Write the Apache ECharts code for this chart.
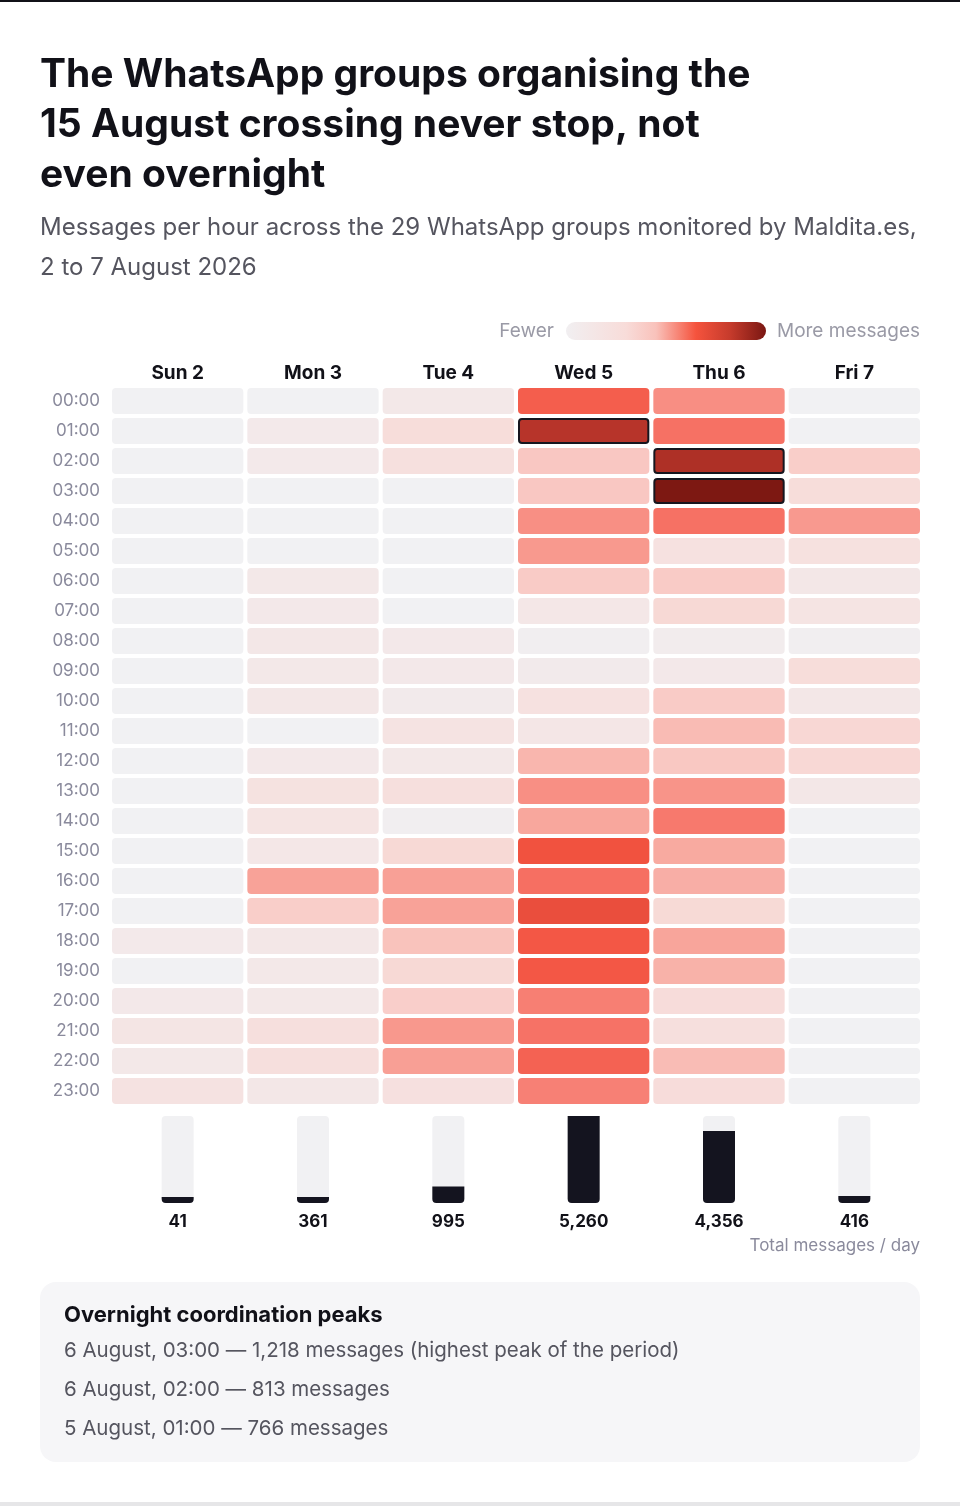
<!DOCTYPE html>
<html>
<head>
<meta charset="utf-8">
<script src="https://cdn.jsdelivr.net/npm/echarts@6/dist/echarts.min.js"></script>
<style>
  html, body { margin: 0; background: #fff; }
  #chart { width: 960px; height: 1506px; }
</style>
</head>
<body>
<div id="chart"></div>
<script>
// days and hours
const days = ['Sun 2', 'Mon 3', 'Tue 4', 'Wed 5', 'Thu 6', 'Fri 7'];
const hours = ['00:00', '01:00', '02:00', '03:00', '04:00', '05:00', '06:00', '07:00',
  '08:00', '09:00', '10:00', '11:00', '12:00', '13:00', '14:00', '15:00',
  '16:00', '17:00', '18:00', '19:00', '20:00', '21:00', '22:00', '23:00'];

// messages per hour (00:00 .. 23:00)
const sun = [0, 0, 0, 0, 0, 0, 0, 0, 0, 0, 0, 0, 0, 0, 0, 0, 0, 0, 4, 0, 5, 11, 6, 15];
const mon = [0, 4, 4, 0, 0, 0, 6, 5, 7, 6, 7, 0, 5, 16, 12, 8, 155, 56, 7, 6, 6, 22, 22, 7];
const tue = [6, 27, 20, 0, 0, 0, 0, 0, 5, 5, 3, 14, 6, 22, 1, 35, 160, 156, 78, 35, 55, 184, 164, 19];
const wed = [355, 766, 69, 69, 207, 182, 63, 8, 1, 3, 17, 9, 106, 207, 144, 406, 296, 473, 380, 380, 249, 287, 338, 245];
const thu = [208, 290, 813, 1218, 290, 17, 62, 35, 2, 5, 62, 95, 68, 195, 266, 137, 125, 33, 149, 116, 28, 21, 93, 28];
const fri = [0, 0, 56, 27, 180, 18, 7, 12, 1, 27, 7, 38, 36, 7, 0, 0, 0, 0, 0, 0, 0, 0, 0, 0];

// total messages per day (labels under the bars)
const dayTotals = [41, 361, 995, 5260, 4356, 416];

// highlighted peaks: [day index, hour index]
const peaks = [[3, 1], [4, 2], [4, 3]];

const titleLines = ['The WhatsApp groups organising the', '15 August crossing never stop, not', 'even overnight'];
const subtitleLines = ['Messages per hour across the 29 WhatsApp groups monitored by Maldita.es,', '2 to 7 August 2026'];
const peakNotes = [
  '6 August, 03:00 — 1,218 messages (highest peak of the period)',
  '6 August, 02:00 — 813 messages',
  '5 August, 01:00 — 766 messages'
];

const FONT = 'Inter, "Noto Sans", sans-serif';
const hourly = [sun, mon, tue, wed, thu, fri];
const maxVal = Math.max.apply(null, [].concat.apply([], hourly));
const scaleK = 1.35; //颜色映射用的对数缩放
const toT = v => Math.log(1 + scaleK * v);

let heatData = [];
hourly.forEach((arr, d) => {
  arr.forEach((v, h) => {
    heatData.push([d, h, v, toT(v)]);
  });
});
const isPeak = (d, h) => peaks.some(p => p[0] === d && p[1] === h);

const cellColors = ['#f1f1f3', '#f1f0f2', '#f1eff1', '#f2edee', '#f2ebec', '#f3e9ea', '#f3e8e8',
  '#f4e6e6', '#f5e3e2', '#f6e0de', '#f7dcd9', '#f8d5d1', '#f9cbc6', '#f9bdb6', '#f8aca3',
  '#f8968b', '#f7766a', '#f2523f', '#e04a3b', '#a92d24', '#7d1812'];

let chart = echarts.init(document.getElementById('chart'), null, { renderer: 'canvas' });

const gridLeft = 110, gridW = 812;

chart.setOption({
  backgroundColor: '#ffffff',
  animation: false,
  grid: [
    { left: gridLeft, width: gridW, top: 386, height: 720 },
    { left: gridLeft, width: gridW, top: 1116, height: 87 }
  ],
  xAxis: [
    {
      type: 'category',
      gridIndex: 0,
      position: 'top',
      data: days,
      axisLine: { show: false },
      axisTick: { show: false },
      splitLine: { show: false },
      axisLabel: { margin: 3, color: '#111118', fontSize: 19, fontWeight: 'bold', fontFamily: FONT }
    },
    {
      type: 'category',
      gridIndex: 1,
      data: days,
      axisLine: { show: false },
      axisTick: { show: false },
      axisLabel: {
        margin: 10,
        color: '#111118',
        fontSize: 17,
        fontWeight: 'bold',
        fontFamily: FONT,
        formatter: (v, i) => dayTotals[i].toLocaleString('en-US')
      }
    }
  ],
  yAxis: [
    {
      type: 'category',
      gridIndex: 0,
      inverse: true,
      data: hours,
      axisLine: { show: false },
      axisTick: { show: false },
      splitLine: { show: false },
      axisLabel: { margin: 10, color: '#8a8a9c', fontSize: 17, fontFamily: FONT }
    },
    { type: 'value', gridIndex: 1, min: 0, max: 5260, show: false }
  ],
  visualMap: {
    type: 'continuous',
    show: false,
    seriesIndex: 0,
    dimension: 3,
    min: 0,
    max: toT(maxVal),
    inRange: { color: cellColors }
  },
  series: [
    {
      type: 'custom',
      xAxisIndex: 0,
      yAxisIndex: 0,
      data: heatData,
      encode: { x: 0, y: 1 },
      renderItem: function(params, api) {
        const c = api.coord([api.value(0), api.value(1)]);
        const s = api.size([1, 1]);
        const peak = isPeak(api.value(0), api.value(1));
        const inset = peak ? 3 : 2;
        const w = s[0] - inset * 2, h = s[1] - inset * 2;
        return {
          type: 'rect',
          shape: { x: c[0] - w / 2, y: c[1] - h / 2, width: w, height: h, r: peak ? 3 : 4 },
          style: {
            fill: api.visual('color'),
            stroke: peak ? '#16161f' : null,
            lineWidth: peak ? 2 : 0
          }
        };
      }
    },
    {
      type: 'bar',
      xAxisIndex: 1,
      yAxisIndex: 1,
      data: dayTotals,
      barWidth: 32,
      barMinHeight: 6,
      showBackground: true,
      backgroundStyle: { color: '#f1f1f3', borderRadius: 4 },
      itemStyle: { color: '#14141f', borderRadius: [0, 0, 4, 4] }
    }
  ],
  graphic: [
    { type: 'rect', left: 0, top: 0, shape: { width: 960, height: 2 }, style: { fill: '#111118' } },
    { type: 'rect', left: 0, top: 1502, shape: { width: 960, height: 4 }, style: { fill: '#e6e6e8' } },
    {
      type: 'text', left: 40, top: 50,
      style: { text: titleLines.join('\n'), font: 'bold 39px ' + FONT, lineHeight: 50, fill: '#111118' }
    },
    {
      type: 'text', left: 40, top: 208,
      style: { text: subtitleLines.join('\n'), font: '24px ' + FONT, lineHeight: 40, fill: '#55555f' }
    },
    // legend
    {
      type: 'text', right: 960 - 554, top: 322,
      style: { text: 'Fewer', font: '19px ' + FONT, fill: '#9a9aa6' }
    },
    {
      type: 'rect', left: 566, top: 322,
      shape: { width: 200, height: 18, r: 9 },
      style: {
        fill: new echarts.graphic.LinearGradient(0, 0, 1, 0, [
          { offset: 0, color: '#f1eff1' },
          { offset: 0.3, color: '#f8dcd9' },
          { offset: 0.45, color: '#f9c2bb' },
          { offset: 0.65, color: '#f5533d' },
          { offset: 0.82, color: '#c63b2c' },
          { offset: 1, color: '#7a1712' }
        ])
      }
    },
    {
      type: 'text', right: 40, top: 322,
      style: { text: 'More messages', font: '19px ' + FONT, fill: '#9a9aa6' }
    },
    {
      type: 'text', right: 40, top: 1237,
      style: { text: 'Total messages / day', font: '17px ' + FONT, fill: '#8a8a9c' }
    },
    // peaks box
    {
      type: 'rect', left: 40, top: 1282,
      shape: { width: 880, height: 180, r: 16 },
      style: { fill: '#f6f6f8' }
    },
    {
      type: 'text', left: 64, top: 1304,
      style: { text: 'Overnight coordination peaks', font: 'bold 22px ' + FONT, fill: '#111118' }
    },
    {
      type: 'text', left: 64, top: 1331,
      style: { text: peakNotes.join('\n'), font: '20.5px ' + FONT, lineHeight: 39, fill: '#55555f' }
    }
  ]
});
</script>
</body>
</html>
